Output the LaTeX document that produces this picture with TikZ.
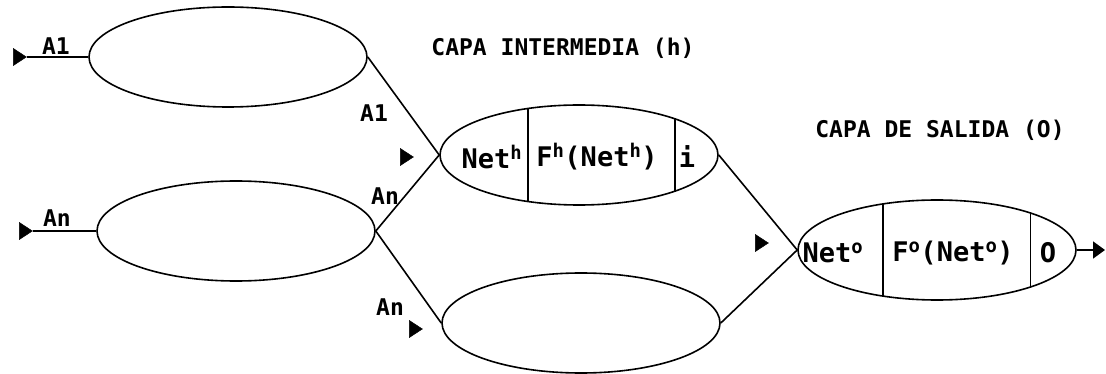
\documentclass[tikz,border=0pt]{standalone}
\usepackage{fontspec}
\setmonofont{DejaVu Sans Mono}
\usepackage{tikz}
\usetikzlibrary{positioning,calc,arrows.meta,shapes.geometric}

\tikzset{
  neurone/.style={ellipse,draw,line width=1.6pt,minimum width=278pt,minimum height=100pt,inner sep=0pt},
  marque/.style={isosceles triangle,isosceles triangle stretches,fill,draw,inner sep=0pt,minimum width=17pt,minimum height=13pt},
  titre/.style={font=\fontsize{23}{25}\selectfont\ttfamily\bfseries},
  etiq/.style={font=\fontsize{23}{25}\selectfont\ttfamily\bfseries,inner sep=0pt},
  texte/.style={font=\fontsize{27}{29}\selectfont\ttfamily\bfseries,inner sep=0pt},
  lien/.style={line width=1.6pt}
}

\begin{document}
\begin{tikzpicture}[x=1pt,y=-1pt]
% Réseau : couche d'entrée, couche intermédiaire (h) et couche de sortie (O)
\useasboundingbox (0,0) rectangle (1106,374);
\node[neurone] (E1) at (228,57) {};
\node[neurone] (E2) at (236,231) {};
\node[neurone] (H1) at (579,155) {};
\node[neurone] (H2) at (581,323) {};
\node[neurone] (S) at (937,250) {};

\node[marque] (in1) at (18,57) {};
\node[marque] (in2) at (24,231) {};
\node[marque] (m1) at (405,157) {};
\node[marque] (m2) at (414,329) {};
\node[marque] (m3) at (760,243) {};
\coordinate (out) at (1105,250);

\draw[lien] (in1.apex) -- (E1.west);
\draw[lien] (in2.apex) -- (E2.west);
\draw[lien] (E1.east) -- (H1.west);
\draw[lien] (E2.east) -- (H1.west);
\draw[lien] (E2.east) -- (H2.west);
\draw[lien] (H1.east) -- (S.west);
\draw[lien] (H2.east) -- (S.west);
\draw[lien,-{Triangle[length=12pt,width=17pt]}] (S.east) -- (out);

\draw[lien] (H1.137.6) -- (H1.-137.6);
\draw[lien] (H1.21.4) -- (H1.-21.4);
\draw[lien] (S.139.5) -- (S.-139.5);
\draw[lien] (S.22.9) -- (S.-22.9);

\node[texte] (neth) at (492,157) {Net\textsuperscript{h}};
\node[texte] (fh) at (597,157) {F\textsuperscript{h}(Net\textsuperscript{h})};
\node[texte] (i) at (687,157) {i};
\node[texte] (neto) at (833,253) {Net\textsuperscript{o}};
\node[texte] (fo) at (953,253) {F\textsuperscript{o}(Net\textsuperscript{o})};
\node[texte] (o) at (1048,253) {O};

\node[etiq] (a1) at (56,46) {A1};
\node[etiq] (an) at (57,218) {An};
\node[etiq] (a1h) at (374,113) {A1};
\node[etiq] (anh) at (385,196) {An};
\node[etiq] (anb) at (390,307) {An};

\node[titre] (tith) at (563,48) {CAPA INTERMEDIA (h)};
\node[titre] (tito) at (940,130) {CAPA DE SALIDA (O)};
\end{tikzpicture}
\end{document}
